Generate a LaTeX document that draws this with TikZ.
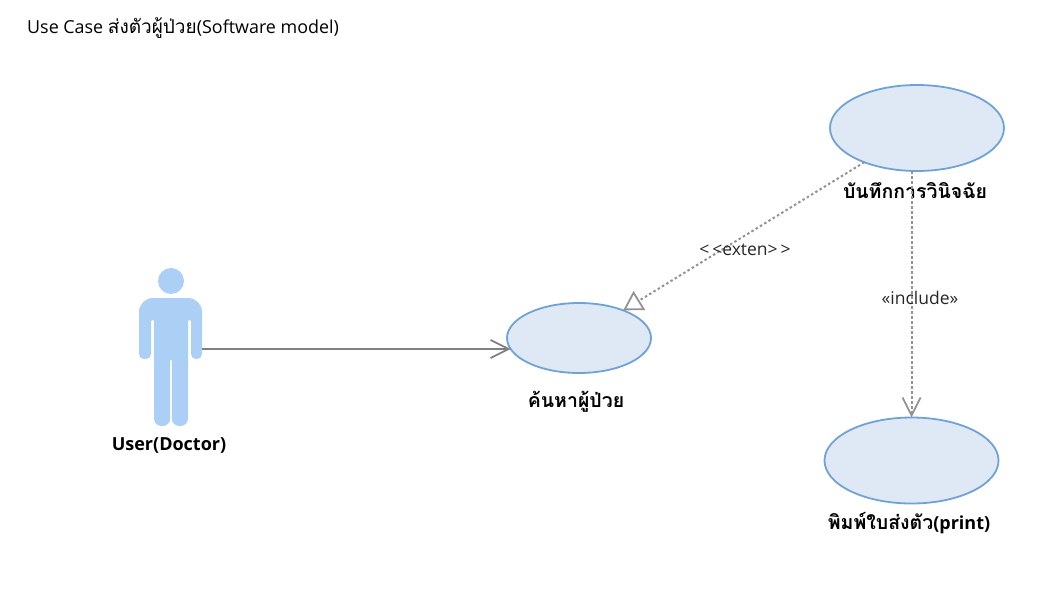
\documentclass[tikz,border=0pt]{standalone}
\usepackage{fontspec}
\setmainfont{Open Sans}
\newfontfamily\thaifont[Script=Thai]{Loma}
\usetikzlibrary{arrows.meta,shapes.geometric}
\definecolor{casefill}{HTML}{DFE9F5}
\definecolor{caseline}{HTML}{6FA3D8}
\definecolor{actorfill}{HTML}{ABCFF5}
\definecolor{linkgray}{HTML}{808080}
\tikzset{
usecase/.style={ellipse, draw=caseline, fill=casefill, line width=1.8pt, inner sep=0pt, outer sep=0pt},
caselabel/.style={font=\fontsize{18}{20}\selectfont\bfseries, text=black},
thailabel/.style={font=\fontsize{19.5}{20}\selectfont\bfseries, text=black},
linklabel/.style={font=\fontsize{17.5}{20}\selectfont, text=black!85},
link/.style={draw=linkgray, line width=1.8pt},
openhead/.style={-{Straight Barb[length=18pt,width=18pt,line width=1.8pt]}},
dotlink/.style={link, draw=linkgray!85, line width=2pt, dash pattern=on 2.5pt off 2.5pt}
}
\begin{document}
\begin{tikzpicture}[y=-1pt, x=1pt]
\useasboundingbox (0,0) rectangle (1052,597);
%title
\node[anchor=west, inner sep=0pt, font=\fontsize{17.9}{20}\selectfont] (title) at (27,28) {Use Case {\fontsize{19}{20}\selectfont\thaifont ส่งตัวผู้ป่วย}(Software model)};
%actor
\fill[actorfill] (171,281) circle (13);
\fill[actorfill] (139,340) [rounded corners=14pt] -- (139,298) -- (202,298) [rounded corners=5pt] -- (202,359) -- (191,359) [rounded corners=1pt] -- (191,320) -- (188,320) [rounded corners=7.5pt] -- (188,426) -- (171.8,426) [sharp corners] -- (171.8,360) -- (170.2,360) [rounded corners=7.5pt] -- (170.2,426) -- (154,426) [rounded corners=1pt] -- (154,320) -- (151,320) [rounded corners=5pt] -- (151,359) -- (139,359) [sharp corners] -- cycle;
\node[inner sep=0pt, outer sep=0pt, minimum width=63pt, minimum height=156pt] (actor) at (170.5,349) {};
\node[caselabel] (actorlabel) at (169,445) {User(Doctor)};
%use cases
\node[usecase, minimum width=174pt, minimum height=86pt] (record) at (917,128) {};
\node[usecase, minimum width=144pt, minimum height=70pt] (search) at (579,338) {};
\node[usecase, minimum width=174pt, minimum height=86pt] (print) at (911.5,460.5) {};
\node[thailabel] (recordlabel) at (915,191) {\thaifont บันทึกการวินิจฉัย};
\node[thailabel] (searchlabel) at (576,402) {\thaifont ค้นหาผู้ป่วย};
\node[caselabel] (printlabel) at (909,523.5) {{\fontsize{19.5}{20}\selectfont\thaifont พิมพ์ใบส่งตัว}(print)};
%links
\draw[link, openhead] (actor.east) -- (actor.east -| search.189);
\draw[dotlink, -{Triangle[open, length=19pt, width=22pt, line width=1.8pt]}] (record.213) -- (search.32);
\draw[dotlink, openhead] (record.south -| print.north) -- (print.north);
%link labels
\node[linklabel] (extenlabel) at (745,250) {<\,<exten>\,>};
\node[linklabel] (includelabel) at (920,297.5) {«include»};
\end{tikzpicture}
\end{document}
